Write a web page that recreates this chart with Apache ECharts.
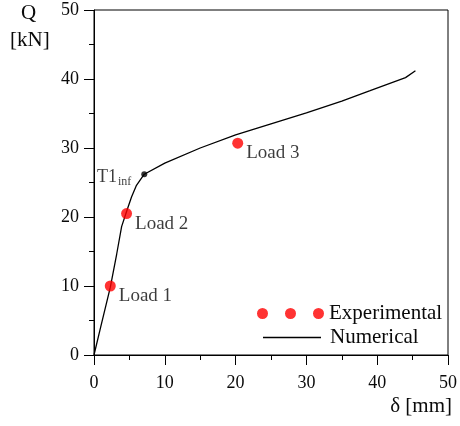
<!DOCTYPE html>
<html>
<head>
<meta charset="utf-8">
<script src="https://cdn.jsdelivr.net/npm/echarts@6/dist/echarts.min.js"></script>
<style>
  html, body { margin: 0; padding: 0; background: #fff; }
  #chart { width: 460px; height: 426px; }
</style>
</head>
<body>
<div id="chart"></div>
<script>
// Load–deflection curve: numerical model vs. experimental load steps
const numDelta = [0, 1.0, 2.3, 3.2, 3.9, 4.6, 5.3, 6.0, 7.1, 10, 15, 20, 25, 30, 35, 39, 44, 45.4];
const numQ     = [0, 4.3, 9.8, 14.6, 18.6, 20.8, 22.9, 24.6, 26.2, 27.8, 30.0, 31.9, 33.5, 35.1, 36.8, 38.3, 40.2, 41.2];

const expNames = ['Load 1', 'Load 2', 'Load 3'];
const expDelta = [2.3, 4.6, 20.3];
const expQ     = [10.0, 20.5, 30.7];

const infName  = 'T1';
const infDelta = 7.1;
const infQ     = 26.2;

const axisTicks = [0, 10, 20, 30, 40, 50];

const FONT = '"Liberation Serif", "DejaVu Serif", serif';
const INK = '#0a0a0a';

const chart = echarts.init(document.getElementById('chart'), null, { renderer: 'canvas' });

const axisCommon = {
  min: axisTicks[0],
  max: axisTicks[axisTicks.length - 1],
  interval: axisTicks[1] - axisTicks[0],
  axisLine: { show: true, lineStyle: { color: '#000', width: 1 } },
  axisTick: { show: true, length: 10, lineStyle: { color: '#000', width: 1 } },
  minorTick: { show: true, splitNumber: 2, length: 5, lineStyle: { color: '#000', width: 1 } },
  splitLine: { show: false },
  axisLabel: { color: INK, fontFamily: FONT, fontSize: 18 }
};

chart.setOption({
  animation: false,
  grid: { left: 94, right: 8, top: 10, bottom: 71, show: true, borderColor: '#000', borderWidth: 1, backgroundColor: 'transparent' },
  xAxis: Object.assign({}, axisCommon, {
    type: 'value',
    axisLabel: Object.assign({}, axisCommon.axisLabel, { margin: 19 })
  }),
  yAxis: Object.assign({}, axisCommon, {
    type: 'value',
    axisLabel: Object.assign({}, axisCommon.axisLabel, { margin: 15 })
  }),
  legend: [
    {
      data: [{ name: 'Experimental', icon: 'path://M0,5.5a5.5,5.5 0 1,0 11,0a5.5,5.5 0 1,0 -11,0M28,5.5a5.5,5.5 0 1,0 11,0a5.5,5.5 0 1,0 -11,0M56,5.5a5.5,5.5 0 1,0 11,0a5.5,5.5 0 1,0 -11,0' }],
      left: 252, top: 298,
      itemWidth: 67, itemHeight: 11, itemGap: 0,
      textStyle: { fontFamily: FONT, fontSize: 21, color: INK }
    },
    {
      data: [{ name: 'Numerical', icon: 'path://M0,0H58V1.3H0Z' }],
      left: 258, top: 322,
      itemWidth: 58, itemHeight: 1.3,
      itemStyle: { color: '#000' },
      textStyle: { fontFamily: FONT, fontSize: 21, color: INK, padding: [0, 0, 0, 4] }
    }
  ],
  graphic: [
    { type: 'text', left: 21, top: 3, style: { text: 'Q', font: '21px ' + FONT, fill: INK } },
    { type: 'text', left: 10, top: 30, style: { text: '[kN]', font: '21px ' + FONT, fill: INK } },
    { type: 'text', right: 8, top: 396, style: { text: 'δ [mm]', font: '21px ' + FONT, fill: INK } }
  ],
  series: [
    {
      name: 'Numerical',
      type: 'line',
      data: numDelta.map((d, i) => [d, numQ[i]]),
      showSymbol: false,
      smooth: false,
      lineStyle: { color: '#000', width: 1.3 },
      itemStyle: { color: '#000' },
      z: 2
    },
    {
      name: 'Experimental',
      type: 'scatter',
      data: expDelta.map((d, i) => ({ value: [d, expQ[i]], name: expNames[i] })),
      symbolSize: 11,
      itemStyle: { color: '#f00' },
      label: {
        show: true,
        position: 'right',
        offset: [-2, 10],
        formatter: p => p.name,
        fontFamily: FONT,
        fontSize: 19,
        color: INK
      },
      z: 3
    },
    {
      name: 'Inflection',
      type: 'scatter',
      data: [{ value: [infDelta, infQ], name: infName }],
      symbolSize: 6,
      itemStyle: { color: '#000' },
      label: {
        show: true,
        position: 'left',
        offset: [-5, 3],
        formatter: p => p.name + '{sub|inf}',
        fontFamily: FONT,
        fontSize: 18,
        color: INK,
        rich: { sub: { fontFamily: FONT, fontSize: 12, color: INK, padding: [10, 0, 0, 1] } }
      },
      z: 4
    }
  ]
});
</script>
</body>
</html>
